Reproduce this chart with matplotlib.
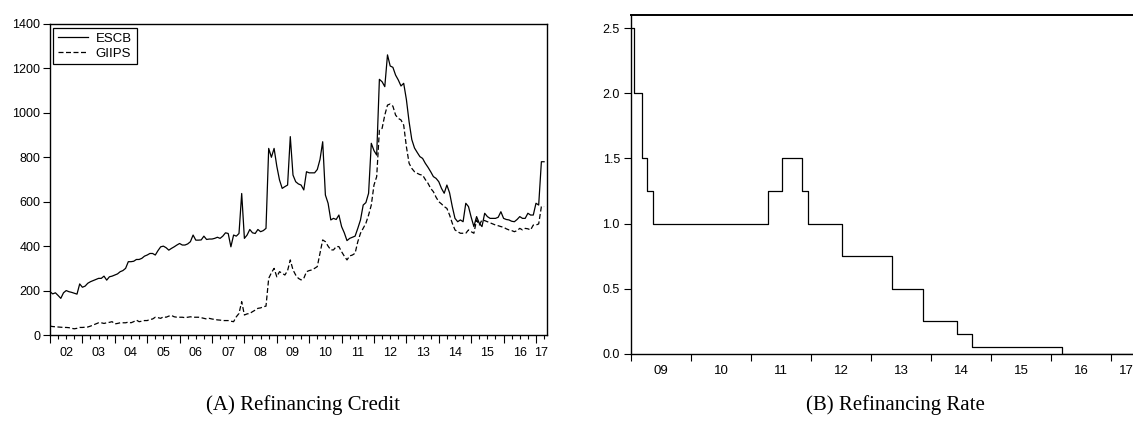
import numpy as np
import matplotlib
matplotlib.use("Agg")
import matplotlib.pyplot as plt
from matplotlib.transforms import blended_transform_factory

# ---------------- data ----------------
# Panel A: monthly refinancing credit (bn EUR), Jan 2002 - Apr 2017
credit_start_year = 2002
escb = [
    195, 185, 190, 178, 165, 190, 200, 195, 192, 188, 184, 230,   # 2002
    215, 220, 233, 240, 245, 250, 255, 255, 265, 247, 262, 265,   # 2003
    270, 275, 285, 290, 300, 330, 330, 332, 340, 340, 345, 355,   # 2004
    360, 367, 367, 360, 380, 397, 400, 393, 382, 390, 397, 405,   # 2005
    412, 405, 405, 410, 420, 450, 427, 427, 428, 445, 430, 432,   # 2006
    432, 435, 440, 435, 445, 460, 457, 397, 450, 445, 457, 637,   # 2007
    435, 450, 475, 460, 457, 475, 465, 470, 480, 840, 800, 840,   # 2008
    760, 698, 660, 668, 675, 893, 720, 690, 680, 675, 653, 735,   # 2009
    730, 730, 730, 745, 790, 870, 630, 593, 518, 525, 520, 540,   # 2010
    488, 460, 425, 435, 440, 445, 480, 518, 585, 596, 638, 863,   # 2011
    830, 810, 1151, 1140, 1118, 1261, 1211, 1205, 1170, 1148, 1121, 1133,  # 2012
    1060, 960, 880, 842, 822, 803, 795, 773, 755, 735, 713, 705,  # 2013
    690, 660, 638, 675, 640, 578, 525, 510, 518, 510, 593, 578,   # 2014
    530, 488, 533, 503, 488, 548, 533, 525, 525, 525, 530, 555,   # 2015
    525, 520, 518, 512, 510, 520, 533, 525, 525, 548, 540, 540,   # 2016
    593, 585, 780, 780,                                           # 2017
]
giips = [
    40, 38, 37, 36, 35, 34, 34, 33, 30, 28, 30, 34,               # 2002
    34, 35, 36, 40, 45, 50, 55, 55, 52, 55, 57, 60,               # 2003
    50, 52, 55, 55, 55, 58, 55, 60, 67, 60, 62, 65,               # 2004
    65, 70, 72, 80, 78, 75, 82, 80, 85, 88, 82, 80,               # 2005
    80, 80, 78, 80, 82, 80, 80, 80, 78, 75, 72, 75,               # 2006
    72, 70, 68, 67, 65, 65, 65, 62, 60, 82, 97, 150,              # 2007
    90, 95, 97, 105, 112, 120, 122, 127, 130, 255, 280, 300,      # 2008
    262, 285, 278, 270, 290, 338, 293, 270, 255, 248, 255, 285,   # 2009
    290, 293, 300, 308, 368, 428, 420, 400, 383, 383, 398, 398,   # 2010
    375, 355, 338, 356, 360, 368, 420, 458, 480, 503, 540, 585,   # 2011
    675, 713, 923, 930, 990, 1035, 1040, 1030, 990, 975, 968, 945,  # 2012
    848, 773, 750, 735, 728, 722, 720, 700, 683, 660, 645, 620,   # 2013
    600, 590, 578, 570, 540, 503, 473, 465, 458, 458, 458, 473,   # 2014
    465, 458, 518, 495, 518, 515, 510, 505, 500, 495, 492, 488,   # 2015
    485, 478, 473, 470, 465, 470, 480, 473, 480, 478, 473, 495,   # 2016
    495, 500, 578, 578,                                           # 2017
]
series_labels = ["ESCB", "GIIPS"]
credit_yticks = [0, 200, 400, 600, 800, 1000, 1200, 1400]
credit_years = list(range(2002, 2018))
credit_year_labels = ["02", "03", "04", "05", "06", "07", "08", "09",
                      "10", "11", "12", "13", "14", "15", "16", "17"]

# Panel B: main refinancing rate (%), change dates (decimal years) and levels
rate_dates = [2009.0, 2009.05, 2009.18, 2009.27, 2009.37, 2011.28, 2011.52,
              2011.85, 2011.95, 2012.52, 2013.35, 2013.87, 2014.43, 2014.68,
              2016.18, 2017.5]
rate_values = [2.5, 2.0, 1.5, 1.25, 1.0, 1.25, 1.5, 1.25, 1.0, 0.75, 0.5,
               0.25, 0.15, 0.05, 0.0, 0.0]
rate_yticks = [0.0, 0.5, 1.0, 1.5, 2.0, 2.5]
rate_years = list(range(2009, 2018))
rate_year_labels = ["09", "10", "11", "12", "13", "14", "15", "16", "17"]

captions = ["(A) Refinancing Credit", "(B) Refinancing Rate"]

# ---------------- figure ----------------
W, H = 1133, 428
fig = plt.figure(figsize=(W / 100, H / 100), dpi=100)
sans = ["Liberation Sans", "DejaVu Sans"]
serif = ["Liberation Serif", "DejaVu Serif"]

def px_box(left, top, right, bottom):
    return [left / W, 1 - bottom / H, (right - left) / W, (bottom - top) / H]

# ----- Panel A -----
axA = fig.add_axes(px_box(50, 24, 547, 335))
t = credit_start_year + np.arange(len(escb)) / 12.0
axA.plot(t, escb, color="black", lw=0.9, label=series_labels[0])
axA.plot(t, giips, color="black", lw=0.9, ls=(0, (4, 2)), label=series_labels[1])
xmaxA = 2017.34
axA.set_xlim(2002.0, xmaxA)
axA.set_ylim(0, 1400)
axA.set_yticks(credit_yticks)
axA.set_yticklabels([str(v) for v in credit_yticks], family=sans, fontsize=9)
axA.set_xticks(credit_years)
axA.set_xticklabels([])
axA.set_xticks(np.arange(2002, 2017.34, 0.25), minor=True)
axA.tick_params(axis="x", which="major", direction="out", length=6, width=0.8)
axA.tick_params(axis="x", which="minor", direction="out", length=3, width=0.8)
axA.tick_params(axis="y", direction="out", length=5, width=0.8, pad=2)
for s in axA.spines.values():
    s.set_linewidth(1.0)
trA = blended_transform_factory(axA.transData, axA.transAxes)
for yr, lab in zip(credit_years, credit_year_labels):
    xm = (yr + min(yr + 1, xmaxA)) / 2
    axA.text(xm, -18 / 311, lab, transform=trA, ha="center", va="center",
             family=sans, fontsize=9)
leg = axA.legend(loc="upper left", bbox_to_anchor=(0.006, 0.987), borderaxespad=0,
                 frameon=True, fancybox=False, framealpha=1, edgecolor="black",
                 prop={"family": sans, "size": 9.5}, handlelength=2.3,
                 handletextpad=0.6, borderpad=0.35, labelspacing=0.2)
leg.get_frame().set_linewidth(0.9)

# ----- Panel B -----
axB = fig.add_axes(px_box(631, 15, 1141, 354))
axB.plot(rate_dates, rate_values, color="black", lw=0.9, drawstyle="steps-post")
xmaxB = 2017.5
axB.set_xlim(2009.0, xmaxB)
axB.set_ylim(0, 2.6)
axB.set_yticks(rate_yticks)
axB.set_yticklabels([f"{v:.1f}" for v in rate_yticks], family=sans, fontsize=9)
axB.set_xticks(rate_years)
axB.set_xticklabels([])
axB.tick_params(axis="x", direction="out", length=5, width=0.8)
axB.tick_params(axis="y", direction="out", length=5, width=0.8, pad=3)
axB.spines["right"].set_visible(False)
axB.spines["top"].set_linewidth(1.4)
axB.spines["left"].set_linewidth(1.0)
axB.spines["bottom"].set_linewidth(1.0)
trB = blended_transform_factory(axB.transData, axB.transAxes)
for yr, lab in zip(rate_years, rate_year_labels):
    xm = (yr + min(yr + 1, xmaxB)) / 2
    axB.text(xm, -17 / 339, lab, transform=trB, ha="center", va="center",
             family=sans, fontsize=9.5)

# ----- captions -----
fig.text(303 / W, 1 - 405 / H, captions[0], ha="center", va="center",
         family=serif, fontsize=15)
fig.text(895 / W, 1 - 405 / H, captions[1], ha="center", va="center",
         family=serif, fontsize=15)

fig.savefig("out.png", dpi=100)
